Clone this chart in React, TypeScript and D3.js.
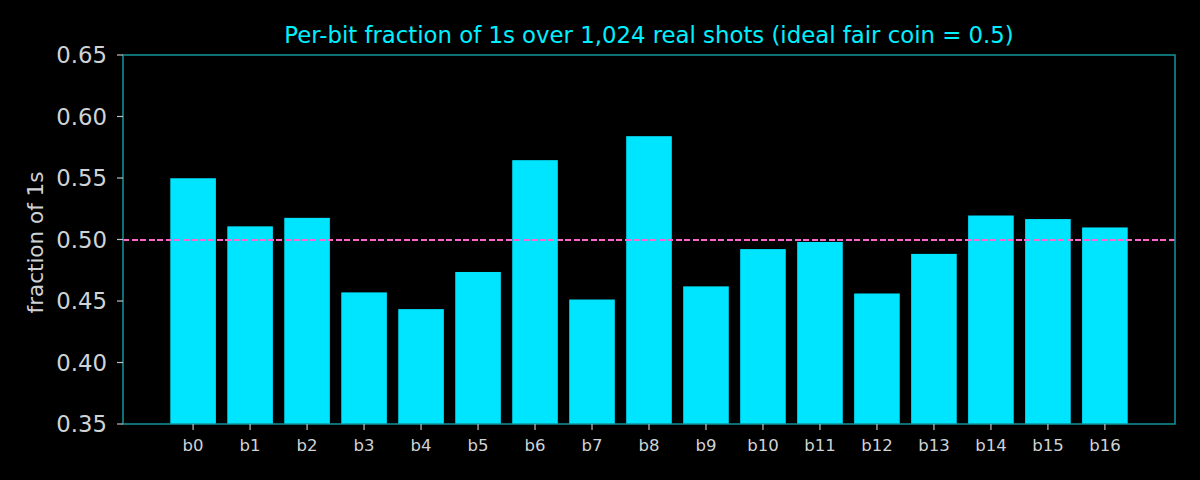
import React from "react";
import * as d3 from "d3";

const categories = ["b0","b1","b2","b3","b4","b5","b6","b7","b8","b9","b10","b11","b12","b13","b14","b15","b16"];
const fractions = [0.5498,0.5107,0.5176,0.4570,0.4434,0.4736,0.5645,0.4512,0.5840,0.4619,0.4922,0.4980,0.4561,0.4883,0.5195,0.5166,0.5098];
const yTicks = [0.35,0.40,0.45,0.50,0.55,0.60,0.65];
const idealValue = 0.5;
const titleText = "Per-bit fraction of 1s over 1,024 real shots (ideal fair coin = 0.5)";
const yLabelText = "fraction of 1s";

const W = 1200, H = 480;
const left = 123, right = 1175, top = 55, bottom = 424;
const FONT = "DejaVu Sans, sans-serif";

export default function App() {
  const x = d3.scaleLinear().domain([-1.23, categories.length - 1 + 1.23]).range([left, right]);
  const y = d3.scaleLinear().domain([0.35, 0.65]).range([bottom, top]);
  const bw = (x(0.8) - x(0));
  return (
    <svg width={W} height={H} style={{ position: "absolute", left: 0, top: 0, background: "#000" }}>
      <rect x={0} y={0} width={W} height={H} fill="#000" />
      {fractions.map((v, i) => (
        <rect key={i} x={x(i) - bw / 2} y={y(v)} width={bw} height={y(0.35) - y(v)} fill="#00e5ff" />
      ))}
      <line x1={left} x2={right} y1={y(idealValue)} y2={y(idealValue)} stroke="#ff66cc" strokeWidth={2} strokeDasharray="6,2.5" shapeRendering="crispEdges" />
      <rect x={left} y={top} width={right - left} height={bottom - top} fill="none" stroke="#12959c" strokeWidth={1.5} />
      {yTicks.map((t) => (
        <g key={t}>
          <line x1={left - 6} x2={left} y1={y(t)} y2={y(t)} stroke="#bfbfbf" strokeWidth={1.2} />
          <text x={left - 16} y={y(t)} dy="0.36em" textAnchor="end" fontFamily={FONT} fontSize={22.8} fill="#cfd3d6">{t.toFixed(2)}</text>
        </g>
      ))}
      {categories.map((c, i) => (
        <g key={c}>
          <line x1={x(i)} x2={x(i)} y1={bottom} y2={bottom + 6} stroke="#bfbfbf" strokeWidth={1.2} />
          <text x={x(i)} y={bottom + 27} textAnchor="middle" fontFamily={FONT} fontSize={16.5} fill="#cfd3d6">{c}</text>
        </g>
      ))}
      <text transform={`translate(43,${(top + bottom) / 2 + 3}) rotate(-90)`} textAnchor="middle" fontFamily={FONT} fontSize={21.5} fill="#cfd3d6">{yLabelText}</text>
      <text x={(left + right) / 2} y={43} textAnchor="middle" fontFamily={FONT} fontSize={22.8} fill="#00f0ff">{titleText}</text>
    </svg>
  );
}
